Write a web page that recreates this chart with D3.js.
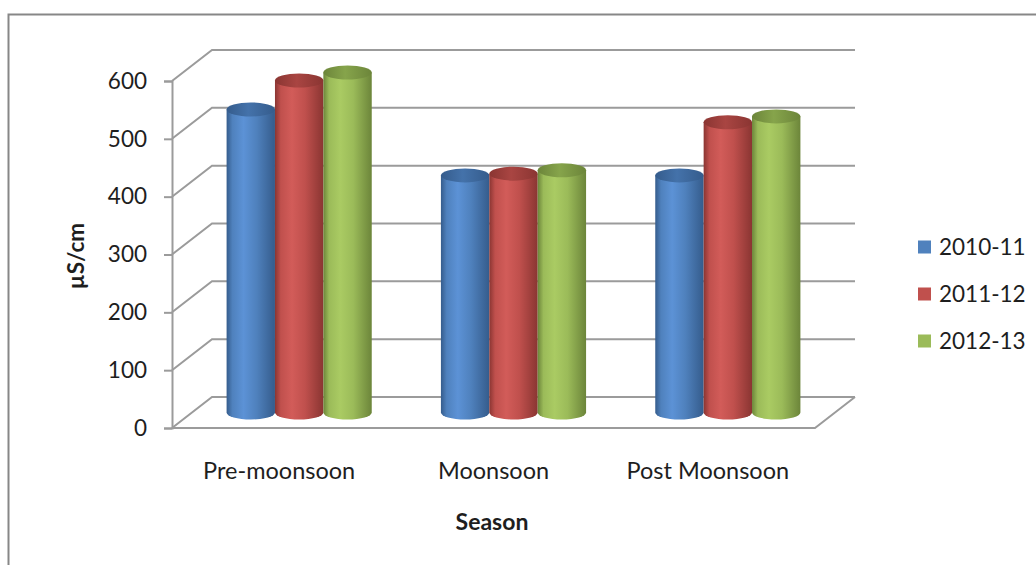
<!DOCTYPE html>
<html>
<head>
<meta charset="utf-8">
<script src="https://cdn.jsdelivr.net/npm/d3@7"></script>
<style>
  html, body { margin: 0; padding: 0; background: #fff; }
  svg { display: block; }
  text { font-family: Lato, "Open Sans", sans-serif; fill: #1e1e1e; }
</style>
</head>
<body>
<svg id="chart" width="1036" height="565"></svg>
<script>
// Conductivity by season, three monitoring years
const categories = ["Pre-moonsoon", "Moonsoon", "Post Moonsoon"];
const seriesNames = ["2010-11", "2011-12", "2012-13"];
const values2010 = [524, 410, 410];
const values2011 = [574, 413, 502];
const values2012 = [588, 419, 512];
const yTickValues = [0, 100, 200, 300, 400, 500, 600];

const seriesValues = [values2010, values2011, values2012];
const palette = [
  { base: "#4F81BD", light: "#5C92D6", dark: "#355C8C", top: "#4472AA" },
  { base: "#C0504D", light: "#D25C59", dark: "#8A3532", top: "#A94542" },
  { base: "#9BBB59", light: "#AACB63", dark: "#6C853A", top: "#86A44B" }
];

const svg = d3.select("#chart");

// outer frame
svg.append("rect")
  .attr("x", 8.5).attr("y", 14.5)
  .attr("width", 1100).attr("height", 700)
  .attr("fill", "none").attr("stroke", "#878787").attr("stroke-width", 2);

// front plane scales; the back wall is offset by depth
const x = d3.scaleBand().domain(categories).range([172, 815]).padding(0);
const y = d3.scaleLinear().domain([0, 600]).range([428, 81]);
const depthX = 40, depthY = -31;
const inner = d3.scaleBand().domain(seriesNames)
  .range([0, x.bandwidth()]).paddingInner(0).paddingOuter(0.715);

const gridColor = "#9b9b9b";
const grid = svg.append("g").attr("fill", "none")
  .attr("stroke", gridColor).attr("stroke-width", 2);

// back wall gridlines + side wall diagonals
yTickValues.forEach(t => {
  const yy = y(t);
  grid.append("path").attr("d",
    `M${172},${yy} L${172 + depthX},${yy + depthY} L${815 + depthX},${yy + depthY}`);
});
// floor: front edge and right diagonal
grid.append("path").attr("d",
  `M${172},${y(0)} L${815},${y(0)} L${815 + depthX},${y(0) + depthY}`);

// value axis on the front plane
const axis = d3.axisLeft(y).tickValues(yTickValues).tickSize(8).tickPadding(17)
  .tickFormat(d3.format("d"));
const gAxis = svg.append("g").attr("transform", "translate(172,0)").call(axis);
gAxis.select(".domain").attr("stroke", gridColor).attr("stroke-width", 2);
gAxis.selectAll(".tick line").attr("stroke", gridColor).attr("stroke-width", 2);
gAxis.selectAll(".tick text")
  .attr("font-size", 22.5).attr("font-family", "Lato, sans-serif").attr("fill", "#1e1e1e");

// gradients for cylinders
const defs = svg.append("defs");
palette.forEach((c, i) => {
  const g = defs.append("linearGradient").attr("id", "cyl" + i)
    .attr("x1", "0%").attr("x2", "100%").attr("y1", "0%").attr("y2", "0%");
  g.append("stop").attr("offset", "0%").attr("stop-color", c.dark);
  g.append("stop").attr("offset", "12%").attr("stop-color", c.base);
  g.append("stop").attr("offset", "35%").attr("stop-color", c.light);
  g.append("stop").attr("offset", "62%").attr("stop-color", c.base);
  g.append("stop").attr("offset", "100%").attr("stop-color", c.dark);
  const t = defs.append("linearGradient").attr("id", "top" + i)
    .attr("x1", "0%").attr("x2", "100%").attr("y1", "0%").attr("y2", "0%");
  t.append("stop").attr("offset", "0%").attr("stop-color", c.dark);
  t.append("stop").attr("offset", "45%").attr("stop-color", c.top);
  t.append("stop").attr("offset", "100%").attr("stop-color", c.dark);
});

// cylinders sit halfway into the depth
const midX = depthX / 2, midY = depthY / 2;
const ry = 7;
const bars = svg.append("g");
categories.forEach((cat, ci) => {
  seriesNames.forEach((s, si) => {
    const v = seriesValues[si][ci];
    const left = x(cat) + inner(s) + midX;
    const w = inner.bandwidth();
    const rx = w / 2;
    const base = y(0) + midY;
    const top = y(v) + midY;
    bars.append("path")
      .attr("d", `M${left},${top} L${left},${base} A${rx},${ry} 0 0 0 ${left + w},${base} L${left + w},${top} Z`)
      .attr("fill", `url(#cyl${si})`);
    bars.append("ellipse")
      .attr("cx", left + rx).attr("cy", top)
      .attr("rx", rx).attr("ry", ry)
      .attr("fill", `url(#top${si})`);
  });
});

// category labels
svg.append("g").selectAll("text").data(categories).join("text")
  .attr("x", d => x(d) + x.bandwidth() / 2)
  .attr("y", 479)
  .attr("text-anchor", "middle")
  .attr("font-size", 23.5)
  .text(d => d);

// axis titles
svg.append("text")
  .attr("transform", "translate(84,256) rotate(-90)")
  .attr("text-anchor", "middle")
  .attr("font-size", 22.5).attr("font-weight", "bold")
  .text("µS/cm");
svg.append("text")
  .attr("x", 492).attr("y", 530)
  .attr("text-anchor", "middle")
  .attr("font-size", 23).attr("font-weight", "bold")
  .text("Season");

// legend
const legend = svg.append("g");
seriesNames.forEach((s, i) => {
  const cy = 247 + i * 47;
  legend.append("rect")
    .attr("x", 918).attr("y", cy - 6.5).attr("width", 13).attr("height", 13)
    .attr("fill", palette[i].base);
  legend.append("text")
    .attr("x", 939).attr("y", cy).attr("dy", "0.35em")
    .attr("font-size", 22.5)
    .text(s);
});
</script>
</body>
</html>
